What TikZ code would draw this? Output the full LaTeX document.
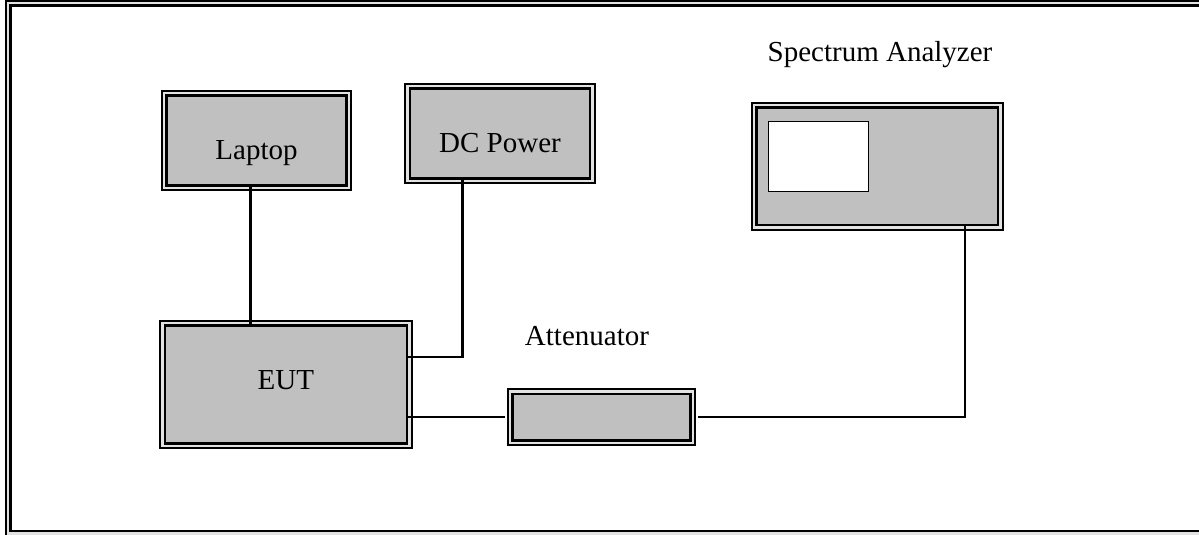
\documentclass[tikz,border=0pt]{standalone}
\usepackage{fontspec}
\setmainfont{Liberation Serif}
\usetikzlibrary{positioning}
\definecolor{boxgray}{RGB}{192,192,192}
\definecolor{ringgap}{RGB}{226,226,226}

\begin{document}
\begin{tikzpicture}[
  x=0.5pt, y=-0.5pt,
  font=\fontsize{14.5}{17}\selectfont,
  ring/.style={preaction={draw=black,line width=5.6pt},
               preaction={draw=ringgap,line width=3.8pt},
               draw=black,line width=1.2pt},
  devbox/.style={ring,fill=boxgray,inner sep=0pt,outer sep=0pt},
  tag/.style={anchor=base,inner sep=0pt},
  wire/.style={line width=1.2pt}]

\clip (0,0) rectangle (1199,535);

% --- outer frame (runs off the right edge) ---
\draw[ring,fill=white] (10.5,5.5) rectangle (1215,531);

% --- the equipment ---
\node[devbox,minimum width=90pt,minimum height=45pt] (lap) at (256.5,140.5) {};
\node[tag] (laptxt) at (256.5,159.3) {Laptop};

\node[devbox,minimum width=90pt,minimum height=45pt] (dc) at (500,133.5) {};
\node[tag] (dctxt) at (500,152.3) {DC Power};

\node[devbox,minimum width=121.25pt,minimum height=59pt] (eut) at (286,384.5) {};
\node[tag] (euttxt) at (285.8,389.3) {EUT};

\node[devbox,minimum width=89pt,minimum height=23.25pt] (att) at (601.5,417.25) {};
\node[tag] (attlbl) at (587,345) {Attenuator};

\node[devbox,minimum width=120.75pt,minimum height=58.75pt] (sa) at (877.25,166.25) {};
\node[draw,line width=0.6pt,fill=white,inner sep=0pt,outer sep=0pt,
      minimum width=50.2pt,minimum height=35pt] (scr) at (818.5,156.3) {};
\node[tag] (salbl) at (880,62) {Spectrum Analyzer};

% --- cabling ---
\coordinate (lapx) at ([xshift=-3.1pt]lap.south);
\draw[wire] (lapx) -- (lapx |- eut.north);
\coordinate (dcx) at ([xshift=-18.85pt]dc.south);
\draw[wire] (dcx) |- ([yshift=13.9pt]eut.east);   % supply into side of EUT
\draw[wire] (eut.east |- att.west) -- ([xshift=-4pt]att.west);
\draw[wire] ([xshift=3.9pt]att.east) -| ([xshift=43.9pt]sa.south);

\end{tikzpicture}
\end{document}
